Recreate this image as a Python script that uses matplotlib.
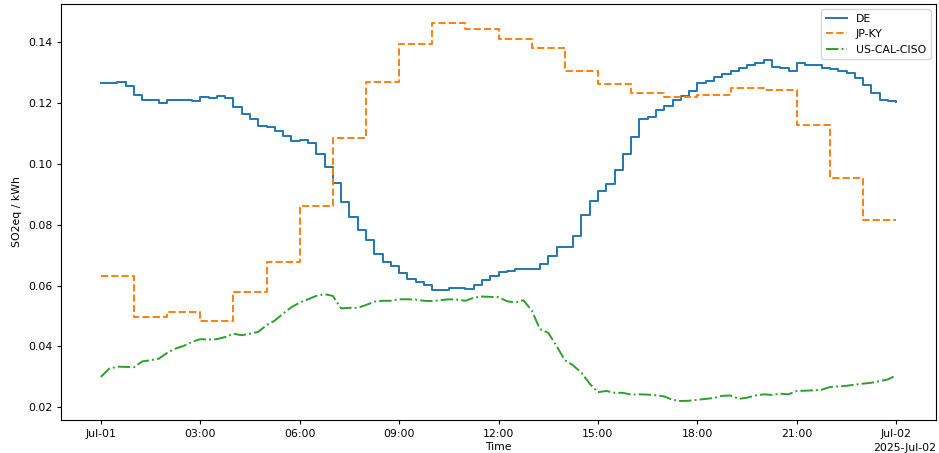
import numpy as np
import pandas as pd
import matplotlib
matplotlib.use("Agg")
import matplotlib.pyplot as plt
import matplotlib.dates as mdates

# ---- data ----
start = "2025-07-01 00:00"
de_values = [
    0.1265, 0.1265, 0.1268, 0.1256, 0.1224, 0.1209, 0.1209, 0.1198,
    0.1209, 0.1209, 0.1208, 0.1206, 0.1220, 0.1216, 0.1222, 0.1215,
    0.1185, 0.1163, 0.1147, 0.1123, 0.1119, 0.1108, 0.1092, 0.1075,
    0.1078, 0.1067, 0.1032, 0.0990, 0.0936, 0.0875, 0.0826, 0.0782,
    0.0751, 0.0703, 0.0678, 0.0664, 0.0640, 0.0620, 0.0612, 0.0601,
    0.0587, 0.0587, 0.0593, 0.0593, 0.0589, 0.0601, 0.0618, 0.0632,
    0.0643, 0.0649, 0.0653, 0.0656, 0.0656, 0.0671, 0.0697, 0.0725,
    0.0725, 0.0763, 0.0832, 0.0878, 0.0912, 0.0933, 0.0980, 0.1032,
    0.1089, 0.1148, 0.1155, 0.1175, 0.1190, 0.1210, 0.1221, 0.1240,
    0.1264, 0.1273, 0.1286, 0.1295, 0.1306, 0.1314, 0.1325, 0.1330,
    0.1341, 0.1319, 0.1314, 0.1305, 0.1332, 0.1325, 0.1325, 0.1314,
    0.1310, 0.1303, 0.1297, 0.1281, 0.1259, 0.1231, 0.1210, 0.1207,
    0.1204,
]
jp_values = [
    0.0633, 0.0497, 0.0513, 0.0483, 0.0578, 0.0676, 0.0862, 0.1083,
    0.1267, 0.1393, 0.1462, 0.1442, 0.1411, 0.1380, 0.1303, 0.1263,
    0.1232, 0.1219, 0.1224, 0.1249, 0.1243, 0.1128, 0.0954, 0.0815,
    0.0815,
]
ciso_values = [
    0.0300, 0.0327, 0.0334, 0.0333, 0.0332, 0.0351, 0.0355, 0.0360,
    0.0379, 0.0393, 0.0402, 0.0415, 0.0424, 0.0423, 0.0424, 0.0431,
    0.0442, 0.0437, 0.0442, 0.0448, 0.0470, 0.0485, 0.0508, 0.0529,
    0.0544, 0.0555, 0.0566, 0.0572, 0.0566, 0.0525, 0.0527, 0.0527,
    0.0536, 0.0547, 0.0550, 0.0550, 0.0555, 0.0555, 0.0554, 0.0550,
    0.0549, 0.0552, 0.0555, 0.0554, 0.0550, 0.0560, 0.0564, 0.0563,
    0.0562, 0.0549, 0.0544, 0.0552, 0.0519, 0.0457, 0.0445, 0.0402,
    0.0355, 0.0338, 0.0314, 0.0278, 0.0250, 0.0254, 0.0248, 0.0248,
    0.0242, 0.0243, 0.0242, 0.0240, 0.0236, 0.0225, 0.0221, 0.0222,
    0.0225, 0.0228, 0.0231, 0.0238, 0.0239, 0.0228, 0.0232, 0.0239,
    0.0243, 0.0241, 0.0245, 0.0243, 0.0254, 0.0255, 0.0256, 0.0258,
    0.0267, 0.0269, 0.0271, 0.0275, 0.0278, 0.0281, 0.0286, 0.0292,
    0.0305,
]
series_names = ["DE", "JP-KY", "US-CAL-CISO"]

t15 = pd.date_range(start, periods=len(de_values), freq="15min")
t60 = pd.date_range(start, periods=len(jp_values), freq="1h")
tc = pd.date_range(start, periods=len(ciso_values), freq="15min")

plt.rcParams["font.size"] = 7.8
fig = plt.figure(figsize=(9.39, 4.53), dpi=100)
ax = fig.add_axes([0.065, 0.073, 0.9318, 0.918])

ax.plot(t15, de_values, color="#1f77b4", lw=1.4, ls="-", drawstyle="steps-post", label=series_names[0])
ax.plot(t60, jp_values, color="#ff7f0e", lw=1.4, ls="--", drawstyle="steps-post", label=series_names[1])
ax.plot(tc, ciso_values, color="#2ca02c", lw=1.4, ls="-.", label=series_names[2])

loc = mdates.HourLocator(byhour=range(0, 24, 3))
ax.xaxis.set_major_locator(loc)
ax.xaxis.set_major_formatter(mdates.ConciseDateFormatter(loc))
ax.set_xlabel("Time", labelpad=2)
ax.set_ylabel("SO2eq / kWh")
ax.tick_params(length=3)
ax.legend(loc="upper right")

fig.savefig("out.png", dpi=100)
